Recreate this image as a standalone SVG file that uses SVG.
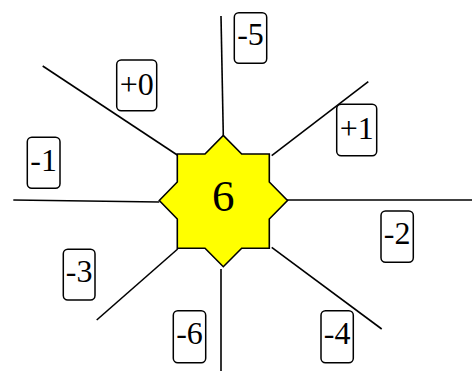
<svg xmlns="http://www.w3.org/2000/svg" width="472" height="371" viewBox="0 0 472 371">
<style>
.e{stroke:#000;stroke-width:1.6;fill:none}
.b{fill:#fff;stroke:#000;stroke-width:1.5}
.t{font-family:"Liberation Serif","Times New Roman",serif;font-size:32px;fill:#000;text-anchor:middle}
</style>
<rect width="472" height="371" fill="#fff"/>
<g id="connectors">
<line class="e" x1="221" y1="16" x2="223.3" y2="135.5"/>
<line class="e" x1="42.7" y1="66" x2="178" y2="155.5"/>
<line class="e" x1="13.3" y1="200" x2="159.3" y2="202"/>
<line class="e" x1="96.7" y1="320" x2="177.7" y2="249"/>
<line class="e" x1="221" y1="269" x2="221" y2="371"/>
<line class="e" x1="368.3" y1="81.7" x2="271.7" y2="155.7"/>
<line class="e" x1="287" y1="200" x2="472" y2="200"/>
<line class="e" x1="271.7" y1="247.3" x2="381.7" y2="329"/>
</g>
<g id="center">
<polygon points="177.3,154 205,154 223.3,135.5 241.7,154 269.3,154 269.3,182 287.5,200.5 269.3,219 269.3,248.3 241.7,248.3 223.3,266.7 205,248.3 177.3,248.3 177.3,219 159.3,200.5 177.3,182" fill="#ffff00" stroke="#000" stroke-width="1.6"/>
<text class="t" x="223.3" y="211" style="font-size:45px">6</text>
</g>
<g id="l-5"><rect class="b" x="234.3" y="12.7" width="32.4" height="50.6" rx="4.5"/><text class="t" x="250.5" y="45">-5</text></g>
<g id="l+0"><rect class="b" x="116.7" y="60" width="40" height="50.7" rx="4.5"/><text class="t" x="136.7" y="95">+0</text></g>
<g id="l+1"><rect class="b" x="336.7" y="104.3" width="40" height="51.4" rx="4.5"/><text class="t" x="356.7" y="138.5">+1</text></g>
<g id="l-1"><rect class="b" x="27.3" y="137.3" width="32.7" height="51" rx="4.5"/><text class="t" x="43.7" y="170.5">-1</text></g>
<g id="l-2"><rect class="b" x="381" y="211" width="32.3" height="51.3" rx="4.5"/><text class="t" x="397.2" y="244">-2</text></g>
<g id="l-3"><rect class="b" x="63.3" y="249.3" width="31.7" height="50.7" rx="4.5"/><text class="t" x="79.2" y="282">-3</text></g>
<g id="l-6"><rect class="b" x="173.3" y="310.7" width="32.4" height="52" rx="4.5"/><text class="t" x="189.5" y="344">-6</text></g>
<g id="l-4"><rect class="b" x="321" y="310.7" width="32.3" height="52" rx="4.5"/><text class="t" x="337.2" y="344">-4</text></g>
</svg>
